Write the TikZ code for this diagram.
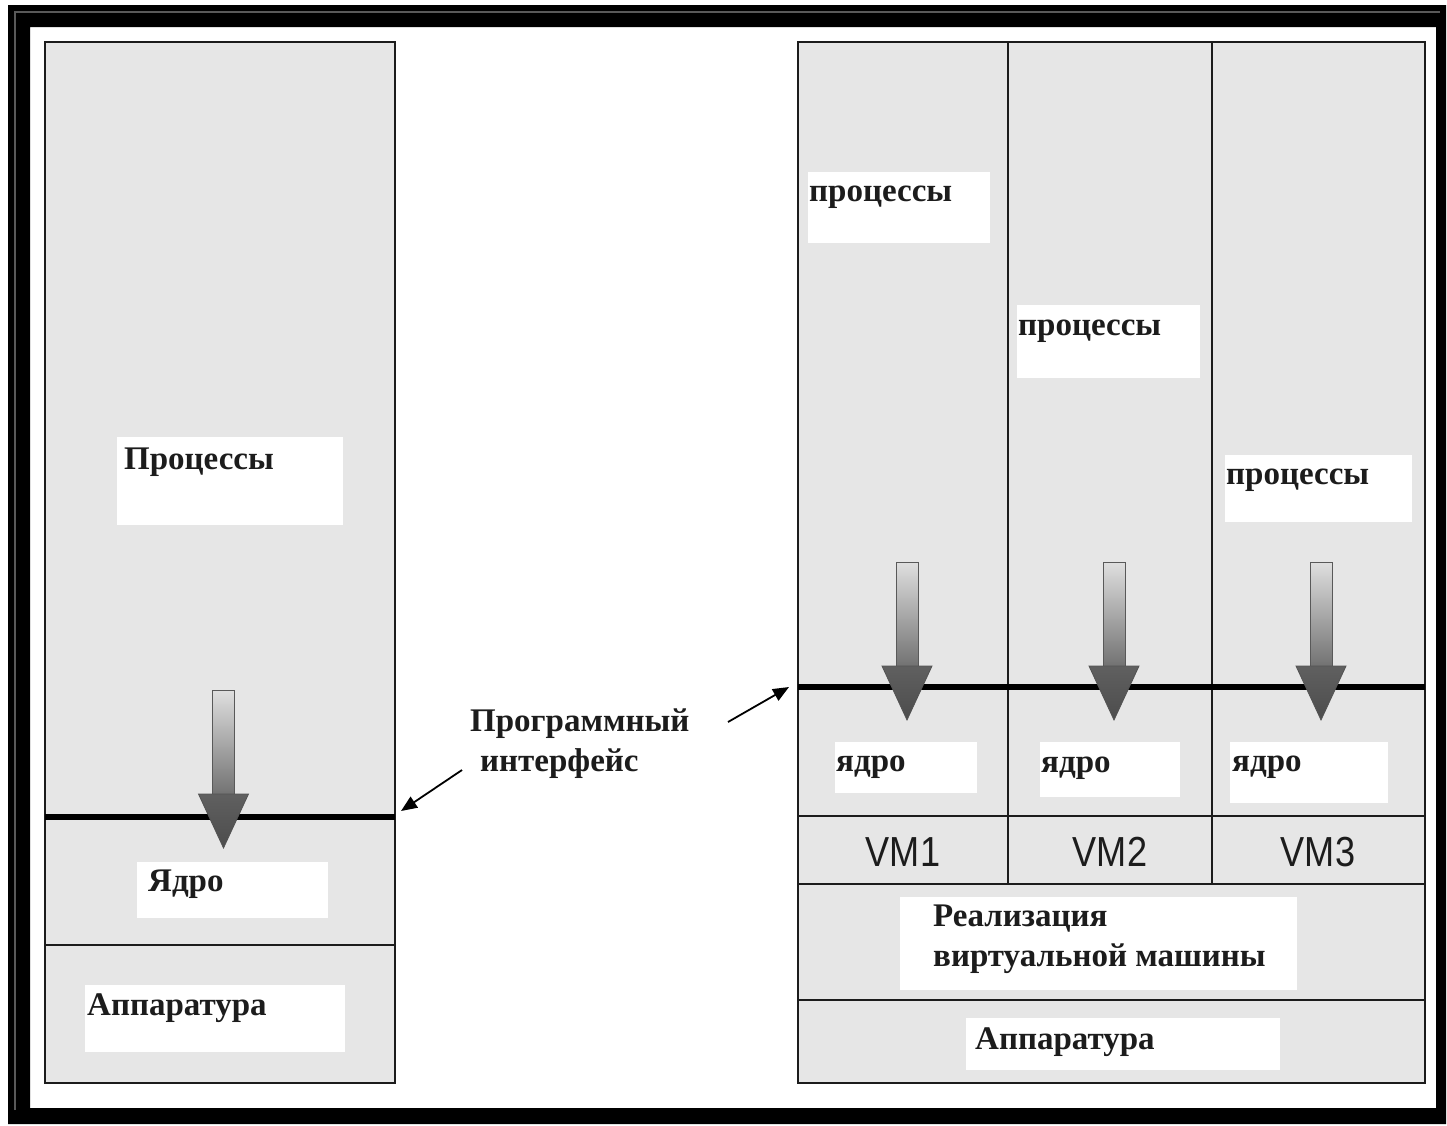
\documentclass[tikz,border=0pt]{standalone}
\usepackage{fontspec}
\setmainfont{Liberation Serif}
\setsansfont{Liberation Sans}
\usetikzlibrary{arrows.meta}
\definecolor{panelgray}{HTML}{E6E6E6}
\definecolor{inkdark}{HTML}{1C1C1C}
\tikzset{
  panel/.style={fill=panelgray, draw=inkdark, line width=2.5pt},
  sep/.style={draw=inkdark, line width=2.2pt},
  iface/.style={draw=black, line width=6pt},
  labelbox/.style={fill=white, draw=none},
  lbl/.style={font=\bfseries\fontsize{33}{40}\selectfont, text=inkdark, inner sep=0pt, anchor=base west, align=left},
  vmlbl/.style={font=\sffamily\fontsize{42}{48}\selectfont, text=inkdark, inner sep=0pt, xscale=0.86, transform shape},
  pointer/.style={draw=black, line width=1.8pt, -{Triangle[length=16pt,width=13pt]}},
  downarrow/.pic={
    \shade[top color=gray!25, bottom color=gray!60!black!80, draw=gray!70!black, line width=0.8pt]
      (-11,0) -- (11,0) -- (11,106) -- (-11,106) -- cycle;
    \shade[top color=gray!75!black, bottom color=gray!60!black, draw=gray!65!black, line width=0.8pt]
      (-25,104) -- (25,104) -- (0,158) -- cycle;
  }
}
\begin{document}
\begin{tikzpicture}[x=1pt, y=-1pt]
\useasboundingbox (0,0) rectangle (1447,1125);

% outer frame
\fill[black, even odd rule] (8,5) rectangle (1446,1124) (30,27) rectangle (1436,1108);
\draw[gray!70!black, line width=2pt] (15,1110) -- (15,12) -- (1440,12);

% ---------- left column: conventional system ----------
\path[panel] (45,42) rectangle (395,1083);
\draw[sep] (45,945) -- (395,945);

\fill[labelbox] (117,437) rectangle (343,525);
\node[lbl] (procL) at (124,469) {Процессы};
\fill[labelbox] (137,862) rectangle (328,918);
\node[lbl] (coreL) at (148,891) {Ядро};
\fill[labelbox] (85,985) rectangle (345,1052);
\node[lbl] (hwL) at (87,1015) {Аппаратура};

\draw[iface] (45,817) coordinate (ifL0) -- (395,817) coordinate (ifL);
\pic at (223.5,690) {downarrow};

% ---------- right column: virtual machines ----------
\path[panel] (798,42) rectangle (1425,1083);
\draw[sep] (1008,42) -- (1008,884);
\draw[sep] (1212,42) -- (1212,884);
\draw[sep] (798,816) -- (1425,816);
\draw[sep] (798,884) -- (1425,884);
\draw[sep] (798,1000) -- (1425,1000);

\fill[labelbox] (808,172) rectangle (990,243);
\node[lbl] (proc1) at (809,201) {процессы};
\fill[labelbox] (1017,305) rectangle (1200,378);
\node[lbl] (proc2) at (1018,335) {процессы};
\fill[labelbox] (1225,455) rectangle (1412,522);
\node[lbl] (proc3) at (1226,484) {процессы};

\fill[labelbox] (835,742) rectangle (977,793);
\node[lbl] (core1) at (836,771) {ядро};
\fill[labelbox] (1040,742) rectangle (1180,797);
\node[lbl] (core2) at (1041,772) {ядро};
\fill[labelbox] (1230,742) rectangle (1388,803);
\node[lbl] (core3) at (1232,771) {ядро};

\node[vmlbl] (vm1) at (903,852) {VM1};
\node[vmlbl] (vm2) at (1110,852) {VM2};
\node[vmlbl] (vm3) at (1318,852) {VM3};

\fill[labelbox] (900,897) rectangle (1297,990);
% base anchor of a two-line node sits on its last line
\node[lbl] (vmimpl) at (933,966) {Реализация\\виртуальной машины};
\fill[labelbox] (966,1018) rectangle (1280,1070);
\node[lbl] (hwR) at (975,1049) {Аппаратура};

\draw[iface] (798,687) -- (1425,687);
\coordinate (ifR) at (789,687);
\pic at (907,562) {downarrow};
\pic at (1114,562) {downarrow};
\pic at (1321,562) {downarrow};

% ---------- API label and pointers ----------
\node[lbl] (api) at (470,771) {Программный\\\hspace*{10pt}интерфейс};
\coordinate (apiL) at (462,770);
\coordinate (apiR) at (728,722);
\draw[pointer] (apiL) -- (401,811);
\draw[pointer] (apiR) -- (ifR);
\end{tikzpicture}
\end{document}
